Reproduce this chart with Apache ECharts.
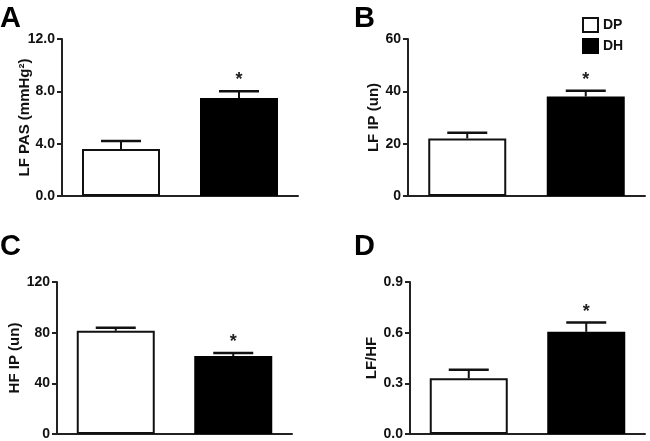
<!DOCTYPE html>
<html>
<head>
<meta charset="utf-8">
<script src="https://cdn.jsdelivr.net/npm/echarts@6/dist/echarts.min.js"></script>
<style>
  html, body { margin: 0; padding: 0; background: #fff; }
  #main { width: 650px; height: 441px; }
</style>
</head>
<body>
<div id="main"></div>
<script>
// groups
const groups = ['DP', 'DH'];
const significant = [false, true];

// panel A - LF PAS
const lfPasMean = [3.6, 7.5];
const lfPasSem = [0.6, 0.5];
// panel B - LF IP
const lfIpMean = [22, 38];
const lfIpSem = [2.2, 2.2];
// panel C - HF IP
const hfIpMean = [81.5, 61.5];
const hfIpSem = [2.3, 2.5];
// panel D - LF/HF
const lfHfMean = [0.33, 0.605];
const lfHfSem = [0.05, 0.055];

const panels = [
    { letter: 'A', name: 'LF PAS (mmHg\u00B2)', mean: lfPasMean, sem: lfPasSem, max: 12, interval: 4, digits: 1,
      grid: { left: 62, top: 39, width: 236, height: 157 }, nameGap: 30, lx: 0, ly: 4 },
    { letter: 'B', name: 'LF IP (un)', mean: lfIpMean, sem: lfIpSem, max: 60, interval: 20, digits: 0,
      grid: { left: 408, top: 39, width: 237, height: 157 }, nameGap: 27, lx: 354, ly: 4 },
    { letter: 'C', name: 'HF IP (un)', mean: hfIpMean, sem: hfIpSem, max: 120, interval: 40, digits: 0,
      grid: { left: 57, top: 282, width: 235, height: 156 }, nameGap: 35, lx: 0, ly: 232 },
    { letter: 'D', name: 'LF/HF', mean: lfHfMean, sem: lfHfSem, max: 0.9, interval: 0.3, digits: 1,
      grid: { left: 410, top: 282, width: 235, height: 156 }, nameGap: 31, lx: 354, ly: 232 }
];

const FONT = '"Liberation Sans", Arial, sans-serif';
const AXIS_COLOR = '#222';

const grid = [], xAxis = [], yAxis = [], series = [], graphic = [];

panels.forEach(function (p, i) {
    grid.push(Object.assign({}, p.grid));
    xAxis.push({
        type: 'category', gridIndex: i, data: groups,
        axisLine: { lineStyle: { color: AXIS_COLOR, width: 2 } },
        axisTick: { show: false }, axisLabel: { show: false }
    });
    yAxis.push({
        type: 'value', gridIndex: i, min: 0, max: p.max, interval: p.interval,
        name: p.name, nameLocation: 'middle', nameGap: p.nameGap, nameRotate: 90,
        nameMoveOverlap: false,
        nameTextStyle: { fontFamily: FONT, fontWeight: 'bold', fontSize: 15, color: '#111' },
        axisLine: { show: true, lineStyle: { color: AXIS_COLOR, width: 2 } },
        axisTick: { show: true, length: 5, lineStyle: { color: AXIS_COLOR, width: 2 } },
        axisLabel: {
            fontFamily: FONT, fontWeight: 'bold', fontSize: 14, color: '#111', margin: 7,
            formatter: function (v) { return v.toFixed(p.digits); }
        },
        splitLine: { show: false }
    });
    // bars
    series.push({
        name: 'DP', type: 'bar', xAxisIndex: i, yAxisIndex: i,
        data: [p.mean[0], '-'], barWidth: 78, barGap: '-100%',
        itemStyle: { color: '#fff', borderColor: '#111', borderWidth: 2 },
        silent: true, animation: false
    });
    series.push({
        name: 'DH', type: 'bar', xAxisIndex: i, yAxisIndex: i,
        data: ['-', p.mean[1]], barWidth: 78, barGap: '-100%',
        itemStyle: { color: '#000', borderColor: '#000', borderWidth: 2 },
        silent: true, animation: false
    });
    // error bars + asterisk
    series.push({
        type: 'custom', xAxisIndex: i, yAxisIndex: i, z: 5, animation: false, silent: true,
        data: groups.map(function (g, k) { return [k, p.mean[k], p.sem[k], significant[k] ? 1 : 0]; }),
        renderItem: function (params, api) {
            const base = api.coord([api.value(0), api.value(1)]);
            const top = api.coord([api.value(0), api.value(1) + api.value(2)]);
            const halfCap = 20;
            const children = [
                { type: 'line', shape: { x1: base[0], y1: base[1], x2: top[0], y2: top[1] },
                  style: { stroke: '#111', lineWidth: 2 } },
                { type: 'line', shape: { x1: top[0] - halfCap, y1: top[1], x2: top[0] + halfCap, y2: top[1] },
                  style: { stroke: '#111', lineWidth: 2.5 } }
            ];
            if (api.value(3)) {
                children.push({
                    type: 'text',
                    style: { text: '*', x: top[0], y: top[1] - 2, align: 'center', verticalAlign: 'bottom',
                             font: 'bold 18px ' + FONT, fill: '#222' }
                });
            }
            return { type: 'group', children: children };
        }
    });
    graphic.push({
        type: 'text', left: p.lx, top: p.ly,
        style: { text: p.letter, font: 'bold 29px ' + FONT, fill: '#000' }
    });
});

const chart = echarts.init(document.getElementById('main'), null, { renderer: 'canvas' });
chart.setOption({
    animation: false,
    backgroundColor: '#fff',
    legend: {
        data: ['DP', 'DH'], orient: 'vertical', left: 577, top: 12,
        itemWidth: 15, itemHeight: 14, itemGap: 5, icon: 'rect',
        textStyle: { fontFamily: FONT, fontWeight: 'bold', fontSize: 14, color: '#111' },
        selectedMode: false
    },
    grid: grid,
    xAxis: xAxis,
    yAxis: yAxis,
    series: series,
    graphic: graphic
});
</script>
</body>
</html>
